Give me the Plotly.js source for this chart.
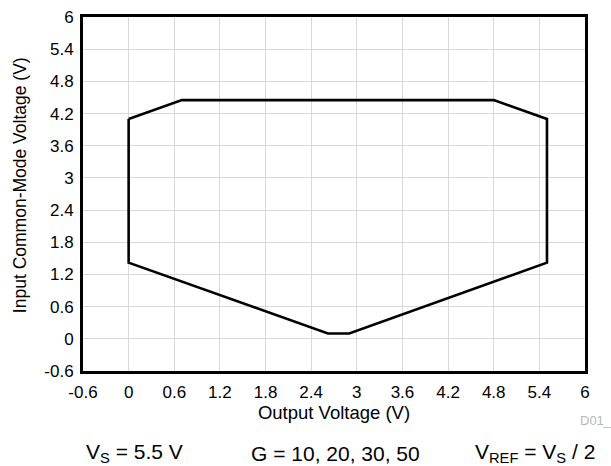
<!DOCTYPE html>
<html>
<head>
<meta charset="utf-8">
<script src="https://cdn.plot.ly/plotly-3.0.1.min.js"></script>
<style>html,body{margin:0;padding:0;background:#fff;}#chart{width:611px;height:466px;}</style>
</head>
<body>
<div id="chart"></div>
<script>
const outputVoltage = [0, 0.7, 4.8, 5.5, 5.5, 2.9, 2.62, 0, 0];
const commonModeVoltage = [4.1, 4.45, 4.45, 4.1, 1.42, 0.1, 0.1, 1.42, 4.1];
const tickValues = [-0.6, 0, 0.6, 1.2, 1.8, 2.4, 3, 3.6, 4.2, 4.8, 5.4, 6];
const tickLabels = ["-0.6", "0", "0.6", "1.2", "1.8", "2.4", "3", "3.6", "4.2", "4.8", "5.4", "6"];

const fam = "Liberation Sans, Arial, sans-serif";
const tickFont = {family: fam, size: 17, color: "#000"};

Plotly.newPlot("chart", [{
  x: outputVoltage,
  y: commonModeVoltage,
  mode: "lines",
  line: {color: "#000", width: 2.6},
  hoverinfo: "skip"
}], {
  width: 611, height: 466,
  margin: {l: 83, r: 26, t: 17, b: 95},
  paper_bgcolor: "#fff", plot_bgcolor: "#fff",
  showlegend: false,
  font: {family: fam, size: 17, color: "#000"},
  xaxis: {
    range: [-0.6, 6], tickvals: tickValues, ticktext: tickLabels,
    showgrid: true, gridcolor: "#d9d9d9", gridwidth: 1,
    zeroline: false, showline: true, linecolor: "#000", linewidth: 3, mirror: true,
    ticks: "", tickfont: tickFont, ticklabelstandoff: 4,
    title: {text: "Output Voltage (V)", font: {family: fam, size: 18.5, color: "#000"}, standoff: 4}
  },
  yaxis: {
    range: [-0.6, 6], tickvals: tickValues, ticktext: tickLabels,
    showgrid: true, gridcolor: "#d9d9d9", gridwidth: 1,
    zeroline: false, showline: true, linecolor: "#000", linewidth: 3, mirror: true,
    ticks: "", tickfont: tickFont, ticklabelstandoff: 3
  },
  annotations: [
    {text: "Input Common-Mode Voltage (V)", textangle: -90, xref: "paper", yref: "paper", x: -0.1255, y: 0.525, xanchor: "center", yanchor: "middle", showarrow: false, font: {family: fam, size: 17.5, color: "#000"}},
    {text: "D01_", xref: "paper", yref: "paper", x: 1.058, y: -0.14, xanchor: "right", yanchor: "middle", showarrow: false, font: {family: fam, size: 13, color: "#b8b8b8"}},
    {text: "V<sub>S</sub> = 5.5 V", xref: "paper", yref: "paper", x: 0.103, y: -0.232, xanchor: "center", yanchor: "middle", showarrow: false, font: {family: fam, size: 21, color: "#000"}},
    {text: "G = 10, 20, 30, 50", xref: "paper", yref: "paper", x: 0.502, y: -0.232, xanchor: "center", yanchor: "middle", showarrow: false, font: {family: fam, size: 21, color: "#000"}},
    {text: "V<sub>REF</sub> = V<sub>S</sub> / 2", xref: "paper", yref: "paper", x: 0.9, y: -0.232, xanchor: "center", yanchor: "middle", showarrow: false, font: {family: fam, size: 21, color: "#000"}}
  ]
}, {displayModeBar: false, staticPlot: true});
</script>
</body>
</html>
